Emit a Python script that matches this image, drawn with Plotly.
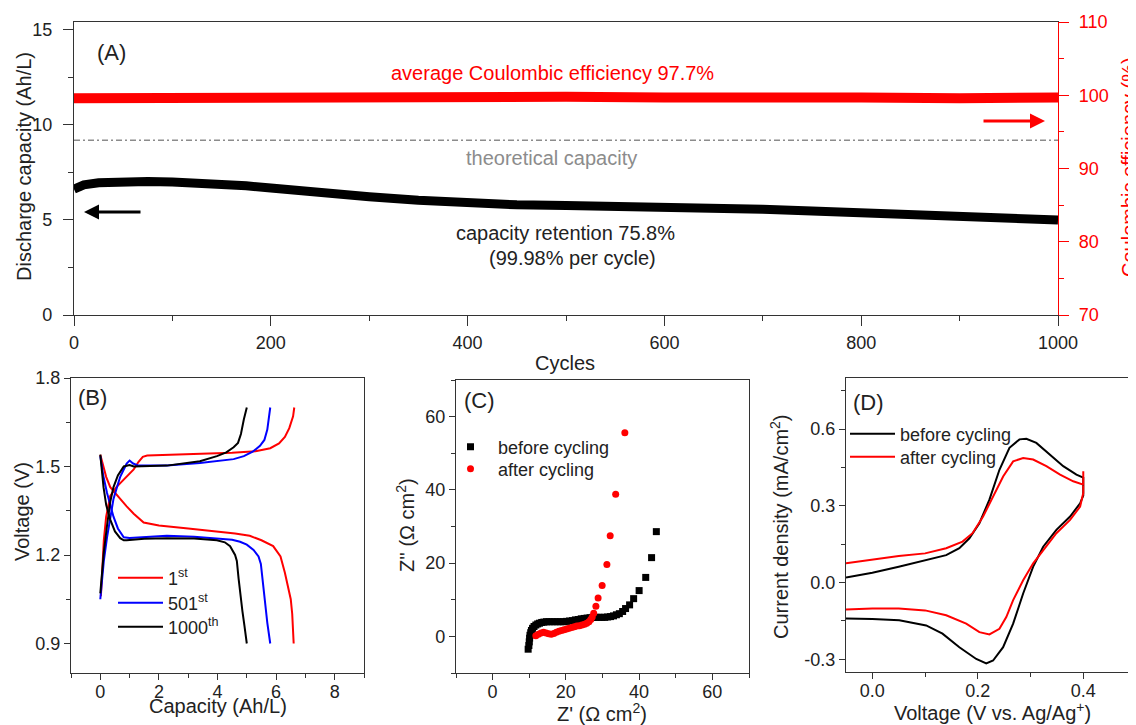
import plotly.graph_objects as go

# ======================= DATA =======================
# (A) long-term cycling
cycles_cap = [0, 10, 25, 50, 75, 100, 125, 150, 175, 200, 250, 300, 350, 400, 450,
              500, 550, 600, 650, 700, 750, 800, 850, 900, 950, 1000]
discharge_capacity = [6.62, 6.85, 6.96, 7.02, 7.02, 7.0, 6.97, 6.92, 6.8, 6.68, 6.42, 6.22, 6.04, 5.9, 5.8,
                      5.76, 5.73, 5.7, 5.67, 5.56, 5.47, 5.38, 5.3, 5.19, 5.1, 5.0]
cycles_ce = [0, 100, 200, 300, 400, 500, 600, 700, 800, 900, 1000]
coulombic_eff = [99.6, 99.7, 99.7, 99.8, 99.8, 99.8, 99.7, 99.8, 99.7, 99.6, 99.7]
theoretical_cycles = [0, 1000]
theoretical_capacity = [9.2, 9.2]

# (B) charge / discharge profiles (capacity Ah/L, voltage V)
c1_charge_x = [0.02, 0.06, 0.12, 0.2, 0.34, 0.55, 0.8, 1.0, 1.14, 1.3, 1.45, 1.6, 2.5, 3.5, 4.5, 5.3, 5.8, 6.1, 6.3, 6.45, 6.58, 6.62]
c1_charge_y = [1.06, 1.15, 1.25, 1.33, 1.40, 1.43, 1.455, 1.475, 1.49, 1.515, 1.533, 1.537, 1.54, 1.543, 1.547, 1.552, 1.562, 1.578, 1.60, 1.63, 1.67, 1.70]
c1_dis_x = [0.0, 0.1, 0.2, 0.34, 0.5, 0.68, 0.9, 1.14, 1.48, 2.0, 3.0, 4.0, 4.6, 5.1, 5.5, 5.9, 6.15, 6.3, 6.42, 6.5, 6.55, 6.6]
c1_dis_y = [1.54, 1.50, 1.465, 1.43, 1.41, 1.39, 1.365, 1.34, 1.31, 1.30, 1.29, 1.28, 1.273, 1.265, 1.25, 1.23, 1.195, 1.14, 1.09, 1.05, 1.0, 0.9]

c501_charge_x = [0.0, 0.05, 0.12, 0.23, 0.35, 0.45, 0.57, 0.68, 0.8, 0.9, 1.0, 1.12, 1.3, 2.27, 3.4, 4.0, 4.55, 4.9, 5.2, 5.45, 5.6, 5.7, 5.8]
c501_charge_y = [1.05, 1.10, 1.18, 1.26, 1.34, 1.39, 1.43, 1.465, 1.49, 1.51, 1.52, 1.51, 1.503, 1.503, 1.512, 1.518, 1.525, 1.535, 1.55, 1.57, 1.59, 1.625, 1.70]
c501_dis_x = [0.0, 0.1, 0.23, 0.35, 0.45, 0.6, 0.8, 1.0, 1.5, 2.27, 3.2, 3.98, 4.5, 4.77, 5.0, 5.23, 5.4, 5.48, 5.55, 5.62, 5.7, 5.8]
c501_dis_y = [1.535, 1.47, 1.41, 1.37, 1.33, 1.29, 1.26, 1.258, 1.26, 1.265, 1.262, 1.257, 1.252, 1.245, 1.235, 1.217, 1.195, 1.17, 1.10, 1.03, 0.97, 0.9]

c1000_charge_x = [0.0, 0.05, 0.12, 0.23, 0.34, 0.45, 0.6, 0.8, 1.0, 1.14, 2.27, 3.4, 3.98, 4.3, 4.55, 4.7, 4.8, 4.9, 5.0]
c1000_charge_y = [1.07, 1.13, 1.21, 1.30, 1.38, 1.43, 1.47, 1.50, 1.505, 1.50, 1.503, 1.518, 1.535, 1.548, 1.565, 1.58, 1.61, 1.66, 1.70]
c1000_dis_x = [0.0, 0.05, 0.11, 0.2, 0.34, 0.5, 0.68, 0.8, 0.9, 1.5, 2.27, 3.2, 3.98, 4.25, 4.43, 4.6, 4.66, 4.72, 4.77, 4.85, 4.92, 5.0]
c1000_dis_y = [1.54, 1.49, 1.43, 1.37, 1.32, 1.28, 1.257, 1.25, 1.25, 1.255, 1.257, 1.256, 1.25, 1.243, 1.23, 1.20, 1.18, 1.12, 1.07, 1.01, 0.96, 0.9]

# (C) impedance (Z', Z'' in ohm cm2)
zre_before = [9.7, 9.9, 10.0, 10.1, 10.2, 10.4, 10.6, 10.9, 11.3, 11.8, 12.3, 12.8, 13.4, 14.0, 14.7, 15.4, 16.2,
              17.0, 17.8, 18.6, 19.4, 20.2, 21.0, 21.8, 22.6, 23.4, 24.2, 25.0, 25.8, 26.6, 27.4, 28.2, 29.0,
              29.8, 30.6, 31.4, 32.2, 33.0, 33.8, 34.6, 35.5, 36.3, 37.4, 38.5, 40.0, 41.8, 43.4, 44.7]
zim_before = [-3.5, -2.5, -1.5, -0.5, 0.3, 1.0, 1.6, 2.2, 2.7, 3.1, 3.4, 3.6, 3.8, 3.9, 4.0, 4.0, 4.0,
              4.0, 4.0, 4.0, 4.0, 4.1, 4.2, 4.3, 4.5, 4.6, 4.8, 4.9, 5.0, 5.1, 5.2, 5.2, 5.2,
              5.2, 5.2, 5.3, 5.4, 5.6, 5.9, 6.2, 6.8, 7.6, 8.6, 10.3, 12.5, 16.1, 21.5, 28.6]
zre_after = [11.8, 12.5, 13.2, 13.9, 14.6, 15.3, 16.0, 16.7, 17.4, 18.1, 18.8, 19.5, 20.2, 20.9, 21.6, 22.3,
             23.0, 23.7, 24.4, 25.1, 25.7, 26.3, 26.8, 27.2, 27.6, 28.2, 28.8, 29.9, 31.2, 32.1, 33.6, 36.1]
zim_after = [0.2, 0.6, 0.9, 1.1, 0.9, 0.7, 0.6, 0.8, 1.1, 1.4, 1.6, 1.8, 2.0, 2.2, 2.4, 2.6,
             2.8, 2.9, 3.1, 3.3, 3.6, 4.0, 4.6, 5.3, 6.3, 8.2, 10.5, 13.9, 19.6, 27.5, 38.8, 55.6]

# (D) cyclic voltammetry (V vs Ag/Ag+, mA/cm2)
v_before = [-0.05, 0.0, 0.05, 0.10, 0.14, 0.165, 0.184, 0.203, 0.222, 0.241, 0.26, 0.279, 0.292, 0.311, 0.337,
            0.362, 0.387, 0.4, 0.4, 0.394, 0.375, 0.349, 0.324, 0.305, 0.286, 0.267, 0.248, 0.229, 0.216,
            0.197, 0.165, 0.133, 0.102, 0.051, 0.0, -0.05]
i_before = [0.02, 0.038, 0.062, 0.088, 0.107, 0.134, 0.173, 0.232, 0.324, 0.441, 0.527, 0.56, 0.562, 0.546, 0.50,
            0.455, 0.422, 0.41, 0.34, 0.31, 0.258, 0.206, 0.14, 0.062, -0.043, -0.161, -0.253, -0.305, -0.316,
            -0.299, -0.253, -0.2, -0.168, -0.148, -0.143, -0.141]
v_after = [-0.05, 0.0, 0.05, 0.10, 0.14, 0.171, 0.19, 0.21, 0.229, 0.248, 0.267, 0.286, 0.305, 0.33, 0.356,
           0.381, 0.4, 0.4, 0.4, 0.394, 0.375, 0.349, 0.324, 0.305, 0.286, 0.267, 0.254, 0.241, 0.222, 0.203,
           0.178, 0.14, 0.10, 0.05, 0.0, -0.05]
i_after = [0.075, 0.09, 0.104, 0.114, 0.134, 0.16, 0.193, 0.258, 0.337, 0.415, 0.474, 0.487, 0.481, 0.455, 0.422,
           0.396, 0.383, 0.435, 0.35, 0.297, 0.245, 0.193, 0.127, 0.075, 0.009, -0.069, -0.135, -0.181, -0.203,
           -0.194, -0.161, -0.128, -0.109, -0.102, -0.102, -0.106]

# ======================= FIGURE =======================
# The page body has an 8px margin, so the figure is 8px smaller and page
# coordinates are shifted by 8px.
OFF = 8
W, H = 1136 - OFF, 725 - OFF
FONT = "Liberation Sans, Arial, sans-serif"
RED = "#ff0000"
INK = "#222"


def fx(p):
    return (p - OFF) / W


def fy(p):
    return 1 - (p - OFF) / H


fig = go.Figure()

# (A)
fig.add_trace(go.Scatter(x=cycles_ce, y=coulombic_eff, mode="lines", line=dict(color=RED, width=10),
                         xaxis="x", yaxis="y2", showlegend=False, name="Coulombic efficiency"))
fig.add_trace(go.Scatter(x=theoretical_cycles, y=theoretical_capacity, mode="lines",
                         line=dict(color="#8c8c8c", width=1.6, dash="6px,3px,2px,3px"),
                         xaxis="x", yaxis="y", showlegend=False, name="theoretical capacity"))
fig.add_trace(go.Scatter(x=cycles_cap, y=discharge_capacity, mode="lines", line=dict(color="black", width=9),
                         xaxis="x", yaxis="y", showlegend=False, name="Discharge capacity"))


def join(a, b):
    return list(a) + [None] + list(b)


# (B)
for name, cx, cy, dx, dy, col, lg in [
    ("1<sup>st</sup>", c1_charge_x, c1_charge_y, c1_dis_x, c1_dis_y, RED, "legend2"),
    ("501<sup>st</sup>", c501_charge_x, c501_charge_y, c501_dis_x, c501_dis_y, "#0000ff", "legend3"),
    ("1000<sup>th</sup>", c1000_charge_x, c1000_charge_y, c1000_dis_x, c1000_dis_y, "black", "legend4"),
]:
    fig.add_trace(go.Scatter(x=join(cx, dx), y=join(cy, dy), mode="lines", name=name,
                             line=dict(color=col, width=2), xaxis="x2", yaxis="y3",
                             legend=lg, connectgaps=False))

# (C)
fig.add_trace(go.Scatter(x=zre_before, y=zim_before, mode="markers", name="before cycling",
                         marker=dict(symbol="square", size=7, color="black"),
                         xaxis="x3", yaxis="y4", legend="legend5"))
fig.add_trace(go.Scatter(x=zre_after, y=zim_after, mode="markers", name="after cycling",
                         marker=dict(symbol="circle", size=7, color=RED),
                         xaxis="x3", yaxis="y4", legend="legend6"))

# (D)
fig.add_trace(go.Scatter(x=v_before, y=i_before, mode="lines", name="before cycling",
                         line=dict(color="black", width=2), xaxis="x4", yaxis="y5", legend="legend7"))
fig.add_trace(go.Scatter(x=v_after, y=i_after, mode="lines", name="after cycling",
                         line=dict(color=RED, width=2), xaxis="x4", yaxis="y5", legend="legend8"))


def axis(big=False, color="#333", **kw):
    minor = dict(ticks="outside", ticklen=5 if big else 3.5, tickwidth=1.2, tickcolor=color, showgrid=False)
    minor.update(kw.pop("minor", {}))
    base = dict(showline=True, linecolor=color, linewidth=1.4, ticks="outside", ticklen=10 if big else 6,
                tickwidth=1.3, tickcolor=color, showgrid=False, zeroline=False, mirror=True, automargin=False,
                tickfont=dict(family=FONT, size=18, color=RED if color == RED else INK), minor=minor)
    base.update(kw)
    return base


def legend(x_page, row_page):
    return dict(bgcolor="rgba(0,0,0,0)", borderwidth=0, xanchor="left", yanchor="top",
                font=dict(family=FONT, size=18, color=INK), itemwidth=45, tracegroupgap=0,
                x=fx(x_page), y=fy(row_page - 18.5))


fig.update_layout(
    width=W, height=H, margin=dict(l=0, r=0, t=0, b=0, autoexpand=False),
    paper_bgcolor="white", plot_bgcolor="white",
    font=dict(family=FONT, color=INK),
    showlegend=True,
    # (A)
    xaxis=axis(big=True, domain=[fx(74), fx(1058)], anchor="y", range=[0, 1000], tick0=0, dtick=200,
               ticklabelstandoff=1, minor=dict(dtick=100)),
    yaxis=axis(big=True, domain=[fy(315), fy(22)], anchor="x", range=[0, 15.42], tick0=0, dtick=5, mirror=False,
               ticklabelstandoff=7, minor=dict(dtick=2.5)),
    yaxis2=axis(big=True, color=RED, overlaying="y", side="right", anchor="x", range=[70, 110], tick0=70,
                dtick=10, mirror=False, ticklabelstandoff=6, minor=dict(dtick=5)),
    # (B)
    xaxis2=axis(domain=[fx(71), fx(364)], anchor="y3", range=[-1, 9], tick0=0, dtick=2,
                ticklabelstandoff=-4, minor=dict(dtick=1)),
    yaxis3=axis(domain=[fy(673), fy(378)], anchor="x2", range=[0.8, 1.8], tick0=0.9, dtick=0.3,
                tickformat=".1f", minor=dict(dtick=0.15, tick0=0.9)),
    # (C)
    xaxis3=axis(domain=[fx(456), fx(749)], anchor="y4", range=[-10, 70], tick0=0, dtick=20,
                ticklabelstandoff=-4, minor=dict(dtick=10)),
    yaxis4=axis(domain=[fy(673), fy(380)], anchor="x3", range=[-10, 70], tick0=0, dtick=20, minor=dict(dtick=10)),
    # (D)
    xaxis4=axis(domain=[fx(846), 1.0], anchor="y5", range=[-0.05, 0.5], tick0=0, dtick=0.2, tickformat=".1f",
                ticklabelstandoff=-4, minor=dict(dtick=0.1, tick0=0)),
    yaxis5=axis(domain=[fy(672), fy(378)], anchor="x4", range=[-0.35, 0.8], tickmode="array",
                tickvals=[-0.3, 0.0, 0.3, 0.6], ticktext=["-0.3", "0.0", "0.3", "0.6"],
                minor=dict(tickmode="linear", dtick=0.15, tick0=0)),
    # legends, one row each
    legend2=legend(113, 578),
    legend3=legend(113, 603),
    legend4=legend(113, 627),
    legend5=legend(443, 447),
    legend6=legend(443, 469),
    legend7=legend(845, 434),
    legend8=legend(845, 457),
)

ann = []


def text(s, x, y, size=20, color=INK, angle=0):
    ann.append(dict(text=s, x=fx(x), y=fy(y), xref="paper", yref="paper", showarrow=False,
                    xanchor="center", yanchor="middle", textangle=angle,
                    font=dict(family=FONT, size=size, color=color)))


# panel labels
text("(A)", 111, 52, 22)
text("(B)", 92, 397, 22)
text("(C)", 479, 400, 22)
text("(D)", 868, 402, 22)
# panel A annotations
text("average Coulombic efficiency 97.7%", 552, 73, 20, RED)
text("theoretical capacity", 551, 158, 20, "#8c8c8c")
text("capacity retention 75.8%", 565, 233, 20)
text("(99.98% per cycle)", 572, 258, 20)
# axis titles
text("Discharge capacity (Ah/L)", 24, 167, 20, angle=-90)
text("Coulombic efficiency (%)", 1129, 167, 20, RED, angle=-90)
text("Cycles", 565, 363, 20)
text("Voltage (V)", 22, 512, 20, angle=-90)
text("Capacity (Ah/L)", 218, 706, 20)
text("Z'' (Ω cm<sup>2</sup>)", 405, 525, 20, angle=-90)
text("Z' (Ω cm<sup>2</sup>)", 602, 712, 20)
text("Current density (mA/cm<sup>2</sup>)", 779, 526, 20, angle=-90)
text("Voltage (V vs. Ag/Ag<sup>+</sup>)", 992, 711, 20)

# arrows in panel A
ann.append(dict(x=fx(84), y=fy(212), xref="paper", yref="paper", text="", showarrow=True,
                ax=58, ay=0, arrowhead=2, arrowsize=1, arrowwidth=3, arrowcolor="black"))
ann.append(dict(x=fx(1045), y=fy(121), xref="paper", yref="paper", text="", showarrow=True,
                ax=-63, ay=0, arrowhead=2, arrowsize=1, arrowwidth=3, arrowcolor=RED))

fig.update_layout(annotations=ann)
fig.write_html("out.html")
